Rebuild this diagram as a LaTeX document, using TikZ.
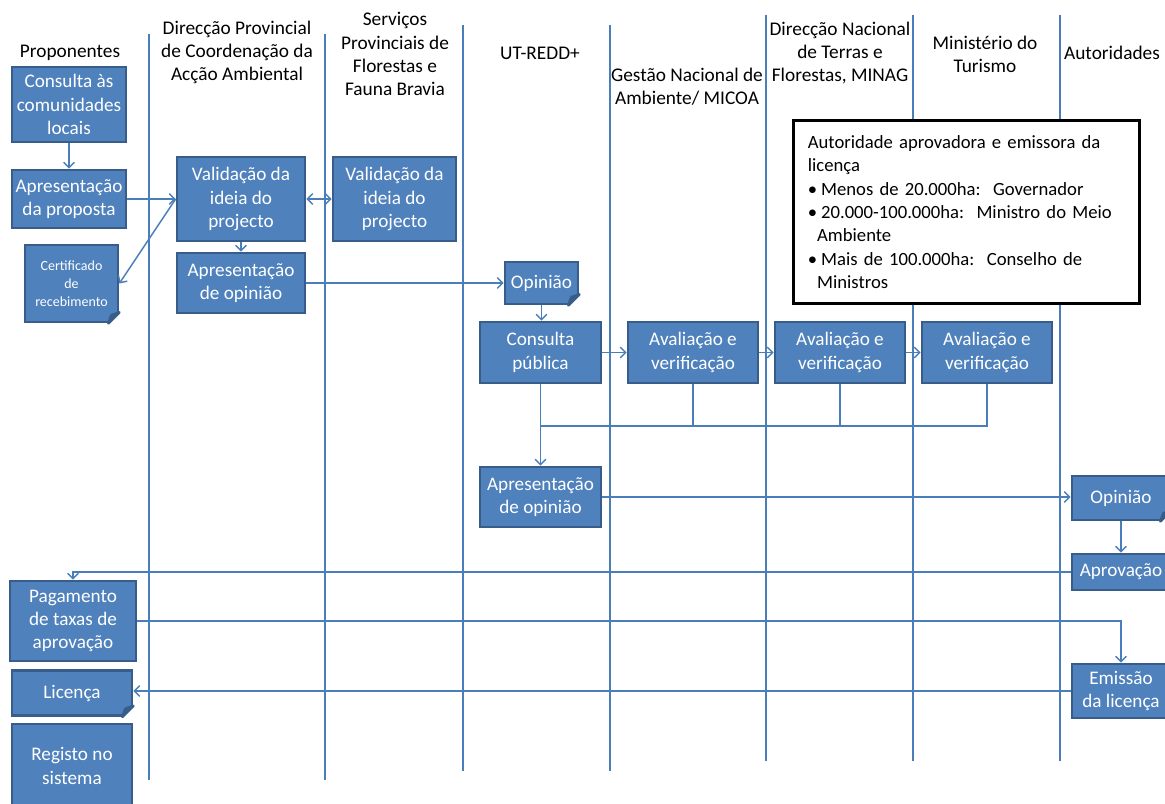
\documentclass[tikz,border=0pt]{standalone}
\usepackage{fontspec}
\setmainfont{Carlito}
\usepackage{tikz}
\usetikzlibrary{arrows.meta,calc}
\definecolor{boxfill}{HTML}{4F81BD}
\definecolor{boxedge}{HTML}{385D8A}
\definecolor{flow}{HTML}{4A7EBB}
\newcommand{\boxfont}{\fontsize{14.4}{17.5}\selectfont}
\newcommand{\headfont}{\fontsize{14.5}{17.3}\selectfont}
\newcommand{\smallfont}{\fontsize{10.5}{13.5}\selectfont}
\newcommand{\fold}[1]{%
  \fill[white] ($(#1.south east)+(-13,2)$) -- ($(#1.south east)+(2,2)$) -- ($(#1.south east)+(2,-13)$) -- cycle;
  \filldraw[boxedge, line width=2pt, line join=round] ($(#1.south east)+(-11,0)$) -- ($(#1.south east)+(0,-11)$) -- ($(#1.south east)+(-8,-8)$) -- cycle;}

\begin{document}
\begin{tikzpicture}[
  x=0.75pt, y=-0.75pt,
  >={Straight Barb[length=4pt,width=8pt]},
  box/.style={draw=boxedge, line width=2pt, fill=boxfill, text=white, align=center, inner sep=1pt, font=\boxfont},
  wh/.style 2 args={minimum width=#1, minimum height=#2},
  head/.style={align=center, font=\headfont},
  note/.style={draw=black, line width=2.2pt, fill=white, align=left, text width=238pt, inner sep=11pt, minimum height=133.5pt, font=\fontsize{14}{17.5}\selectfont},
  lane/.style={flow, line width=1.1pt},
  link/.style={flow, line width=1.1pt},
  arrow/.style={link, ->}
]
\useasboundingbox (0,0) rectangle (1165,804);
\clip (0,0) rectangle (1165,804);

\foreach \x/\top/\bot in {149/34/780, 325/34/780, 463/25/771, 610/25/771, 766/15/761, 913/15/761, 1060/15/761}
  \draw[lane] (\x,\top) -- (\x,\bot);

\node[head] (hprop) at (70,53) {Proponentes};
\node[head] (hdpca) at (237,52) {Direcção Provincial\\de Coordenação da\\Acção Ambiental};
\node[head] (hspf) at (395,54) {Serviços\\Provinciais de\\Florestas e\\Fauna Bravia};
\node[head] (hut) at (540,53) {UT-REDD+};
\node[head] (hmicoa) at (687,87) {Gestão Nacional de\\Ambiente/ MICOA};
\node[head] (hminag) at (840,53) {Direcção Nacional\\de Terras e\\Florestas, MINAG};
\node[head] (htur) at (985,54) {Ministério do\\Turismo};
\node[head] (haut) at (1112,53) {Autoridades};

\node[note] (auth) at (966.5,212) {Autoridade aprovadora e emissora da\\licença\\•\hspace{3pt}Menos de 20.000ha:\ \ Governador\\•\hspace{3pt}20.000-100.000ha:\ \ Ministro do Meio\\\hspace*{7pt}Ambiente\\•\hspace{3pt}Mais de 100.000ha:\ \ Conselho de\\\hspace*{7pt}Ministros};

\node[box, wh={85.5pt}{56.25pt}] (cons) at (69,104.5) {Consulta às\\comunidades\\locais};
\node[box, wh={85.5pt}{43.5pt}] (apres) at (69,199) {Apresentação\\da proposta};
\node[box, wh={69.75pt}{57.75pt}, font=\smallfont] (cert) at (71.5,283.5) {Certificado\\de\\recebimento};
\node[box, wh={96pt}{63pt}] (valid) at (241,199) {Validação da\\ideia do\\projecto};
\node[box, wh={96pt}{45pt}] (opdpca) at (241,283) {Apresentação\\de opinião};
\node[box, wh={92.25pt}{63pt}] (validsp) at (394.5,199) {Validação da\\ideia do\\projecto};
\node[box, wh={54.75pt}{31.5pt}] (opin) at (541.5,283) {Opinião};
\node[box, wh={90.75pt}{45.75pt}] (cpub) at (540.5,352.5) {Consulta\\pública};
\node[box, wh={97.5pt}{45.75pt}] (avmicoa) at (693,352.5) {Avaliação e\\verificação};
\node[box, wh={97.5pt}{45.75pt}] (avminag) at (840,352.5) {Avaliação e\\verificação};
\node[box, wh={97.5pt}{45.75pt}] (avtur) at (987,352.5) {Avaliação e\\verificação};
\node[box, wh={90.75pt}{45pt}] (oput) at (540.5,497) {Apresentação\\de opinião};
\node[box, wh={73.5pt}{33pt}] (opaut) at (1121,498) {Opinião};
\node[box, wh={73.5pt}{27pt}] (aprov) at (1121,572) {Aprovação};
\node[box, wh={73.5pt}{40.5pt}] (emis) at (1121,691) {Emissão\\da licença};
\node[box, wh={94.5pt}{60pt}] (pag) at (73,621) {Pagamento\\de taxas de\\aprovação};
\node[box, wh={90pt}{33.75pt}] (lic) at (72,693) {Licença};
\node[box, wh={90pt}{63pt}] (reg) at (72,766) {Registo no\\sistema};
\fold{cert}
\fold{opin}
\fold{opaut}
\fold{lic}

\draw[arrow] (cons) -- (apres);
\draw[arrow] (apres) -- (valid);
\draw[arrow] (valid.west) -- (cert.east);
\draw[arrow, <->] (valid) -- (validsp);
\draw[arrow] (valid) -- (opdpca);
\draw[arrow] (opdpca) -- (opin);
\draw[arrow] (opin.south) -- (opin.south |- cpub.north);
\draw[arrow] (cpub) -- (avmicoa);
\draw[arrow] (avmicoa) -- (avminag);
\draw[arrow] (avminag) -- (avtur);
\coordinate (join) at (540.5,426);
\draw[link] (avmicoa.south) |- (join);
\draw[link] (avminag.south) |- (join);
\draw[link] (avtur.south) |- (join);
\draw[arrow] (cpub) -- (oput);
\draw[arrow] (oput.east) -- (oput.east -| opaut.west);
\draw[arrow] (opaut) -- (aprov);
\draw[arrow] (aprov.west) -| (pag.north);
\draw[arrow] (pag.east) -| (emis.north);
\draw[arrow] (emis.west) -- (emis.west -| lic.east);
\end{tikzpicture}
\end{document}
